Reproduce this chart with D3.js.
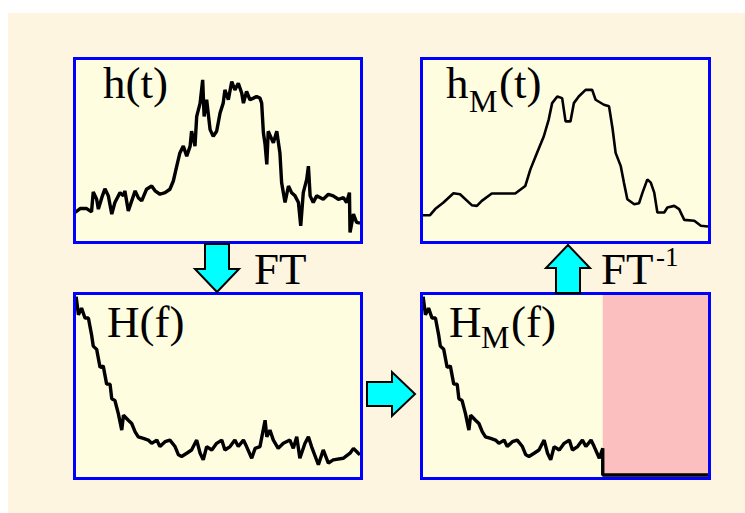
<!DOCTYPE html>
<html>
<head>
<meta charset="utf-8">
<script src="https://cdn.jsdelivr.net/npm/d3@7"></script>
<style>
  html, body { margin: 0; padding: 0; background: #ffffff; }
  svg { display: block; }
  .label { font-family: "Liberation Serif", "Times New Roman", serif; fill: #000; }
</style>
</head>
<body>
<div id="chart"></div>
<script>
"use strict";

// h(t): original signal, [t, amplitude] (t 0..100, amplitude 0..100)
let hT = [
  [0, 14.8], [1.8, 17.0], [4.1, 17.0], [5.8, 15.2], [6.4, 26.3], [7.6, 22.2], [8.2, 16.7],
  [9.4, 23.1], [10.5, 28.1], [11.7, 24.1], [12.9, 13.9], [14.0, 20.4], [15.8, 25.9],
  [17.0, 24.1], [17.5, 26.9], [18.7, 15.7], [19.9, 21.3], [21.1, 26.9], [22.2, 23.1],
  [23.4, 21.3], [25.1, 27.8], [26.9, 29.6], [28.1, 26.9], [29.8, 25.0], [31.6, 25.9],
  [33.3, 27.8], [34.5, 32.4], [35.7, 40.7], [36.8, 48.1], [38.0, 51.9], [39.2, 46.3],
  [40.4, 51.9], [40.9, 60.2], [42.1, 51.9], [42.7, 68.5], [43.9, 75.9], [44.8, 88.9],
  [45.3, 68.5], [46.2, 77.8], [47.4, 61.1], [48.5, 57.4], [49.7, 60.2], [50.9, 70.4],
  [52.0, 75.9], [52.6, 83.3], [53.8, 77.8], [55.0, 88.0], [56.1, 83.3], [57.3, 87.0],
  [58.5, 81.5], [59.1, 75.9], [60.2, 82.4], [61.4, 77.8], [62.6, 78.7], [63.7, 79.6],
  [64.9, 78.7], [65.5, 75.9], [66.1, 59.3], [66.7, 52.8], [67.3, 41.7], [67.8, 60.2],
  [69.6, 53.7], [70.8, 60.2], [71.9, 48.1], [72.5, 31.5], [73.7, 20.4], [74.9, 29.6],
  [76.0, 25.9], [77.2, 24.1], [78.4, 20.4], [79.2, 7.4], [80.1, 25.9], [81.3, 33.3],
  [81.9, 40.7], [82.5, 24.1], [83.6, 20.4], [84.8, 24.1], [87.1, 22.2], [88.9, 25.0],
  [90.6, 24.1], [92.4, 22.2], [94.2, 23.1], [95.3, 20.4], [96.3, 25.9], [96.5, 3.7],
  [97.7, 13.9], [98.8, 9.3], [100, 8.9]
];

// h_M(t): signal rebuilt from the masked spectrum
let hMT = [
  [0, 13.3], [2.8, 13.3], [4.6, 16.7], [7.5, 20.4], [11.0, 25.6], [13.3, 25.0], [17.4, 18.9],
  [19.2, 18.5], [20.9, 21.3], [24.4, 25.4], [32.6, 25.4], [36.1, 29.6], [37.9, 38.9],
  [40.2, 48.1], [42.6, 57.4], [44.3, 66.7], [45.5, 75.9], [47.3, 79.6], [49.0, 78.7],
  [50.2, 65.7], [51.9, 65.7], [53.1, 75.9], [54.8, 79.6], [57.2, 83.3], [59.5, 83.3],
  [60.7, 77.8], [63.6, 75.0], [65.4, 74.1], [66.6, 62.0], [67.7, 48.1], [69.5, 40.7],
  [70.6, 31.5], [71.8, 22.2], [74.2, 19.4], [75.9, 20.0], [77.1, 25.9], [78.8, 33.3],
  [80.0, 31.5], [81.2, 25.9], [82.3, 14.8], [84.7, 14.8], [85.8, 17.6], [88.2, 18.5],
  [89.9, 16.7], [91.7, 10.7], [95.2, 10.2], [97.5, 7.4], [100, 7.0]
];

// H(f): spectrum magnitude, [f, magnitude]
let HF = [
  [0.4, 99.1], [1.2, 89.0], [2.3, 92.7], [3.5, 87.2], [4.7, 87.2], [5.8, 78.0], [6.4, 71.6],
  [7.6, 69.8], [8.8, 59.7], [9.9, 60.6], [11.1, 50.5], [12.3, 50.5], [12.9, 42.3],
  [14.0, 41.4], [15.2, 34.1], [16.4, 24.9], [17.0, 33.2], [18.7, 30.4], [19.9, 28.6],
  [21.1, 24.0], [22.2, 21.2], [24.0, 20.3], [25.7, 19.4], [26.9, 17.6], [28.7, 19.4],
  [29.8, 15.8], [31.6, 18.5], [33.3, 19.4], [35.1, 15.8], [36.3, 11.2], [37.4, 10.3],
  [39.2, 12.1], [40.9, 13.9], [42.7, 19.4], [43.9, 12.1], [45.0, 8.4], [46.2, 15.8],
  [48.0, 13.9], [49.7, 17.6], [51.5, 19.4], [52.6, 13.9], [54.4, 15.8], [56.1, 19.4],
  [57.3, 15.8], [59.1, 19.4], [60.2, 15.8], [62.0, 9.3], [63.2, 14.8], [64.9, 15.8],
  [66.7, 30.4], [67.3, 21.2], [68.4, 24.9], [69.6, 19.4], [71.3, 14.8], [73.1, 17.6],
  [75.4, 19.4], [76.6, 14.8], [77.8, 21.2], [78.9, 9.3], [80.7, 17.6], [81.9, 21.2],
  [83.0, 15.8], [85.4, 5.7], [87.1, 13.9], [88.9, 6.6], [90.6, 8.4], [94.1, 9.3],
  [96.5, 12.1], [97.7, 14.8], [99.4, 12.1], [100, 11.2]
];

// frequency above which the spectrum is masked out
let cutoff = 63.2;

// H_M(f): H(f) kept below the cutoff, zero above it
let HMF = HF.filter(d => d[0] <= cutoff);
HMF = HMF.concat([[cutoff, 0], [100, 0]]);

let width = 745, height = 513;

let svg = d3.select("#chart").append("svg")
  .attr("width", width)
  .attr("height", height);

// cream backdrop
svg.append("rect")
  .attr("x", 8).attr("y", 13)
  .attr("width", width - 8).attr("height", height - 13)
  .style("fill", "#fef5e1");

let panels = [
  { id: "h",  x0: 73,  y0: 57,  x1: 363, y1: 244, data: hT,  lw: 3.4 },
  { id: "hM", x0: 420, y0: 57,  x1: 711, y1: 244, data: hMT, lw: 2.6 },
  { id: "H",  x0: 73,  y0: 292, x1: 363, y1: 480, data: HF,  lw: 3.4 },
  { id: "HM", x0: 420, y0: 292, x1: 711, y1: 480, data: HMF, lw: 3.4 }
];

panels.forEach(p => {
  let g = svg.append("g");

  let x = d3.scaleLinear().domain([0, 100]).range([p.x0 + 2, p.x1 - 3]);
  let y = d3.scaleLinear().domain([0, 100]).range([p.y1 - 5, p.y0 + 3]);

  g.append("rect")
    .attr("x", p.x0).attr("y", p.y0)
    .attr("width", p.x1 - p.x0).attr("height", p.y1 - p.y0)
    .style("fill", "#fffde0");

  if (p.id === "HM") {
    // masked band
    g.append("rect")
      .attr("x", x(cutoff)).attr("y", p.y0)
      .attr("width", p.x1 - x(cutoff)).attr("height", p.y1 - p.y0)
      .style("fill", "#fbbfbf");
  }

  let line = d3.line()
    .x(d => x(d[0]))
    .y(d => y(d[1]));

  g.append("path")
    .datum(p.data)
    .attr("d", line)
    .style("fill", "none")
    .style("stroke", "#000")
    .style("stroke-width", p.lw)
    .style("stroke-linejoin", "bevel");

  g.append("rect")
    .attr("x", p.x0 + 1.5).attr("y", p.y0 + 1.5)
    .attr("width", p.x1 - p.x0 - 3).attr("height", p.y1 - p.y0 - 3)
    .style("fill", "none")
    .style("stroke", "#0000ff")
    .style("stroke-width", 3)
    .attr("shape-rendering", "crispEdges");
});

// panel labels
function label(parts) {
  let t = svg.append("text").attr("class", "label");
  parts.forEach(s => {
    t.append("tspan")
      .attr("x", s.x)
      .attr("y", s.y)
      .style("font-size", s.size + "px")
      .text(s.text);
  });
}

label([{ text: "h(t)", x: 103, y: 98, size: 45 }]);
label([
  { text: "h", x: 446, y: 98, size: 45 },
  { text: "M", x: 469, y: 112, size: 32 },
  { text: "(t)", x: 499, y: 98, size: 45 }
]);
label([{ text: "H(f)", x: 107, y: 337, size: 45 }]);
label([
  { text: "H", x: 449, y: 337, size: 45 },
  { text: "M", x: 481, y: 348, size: 32 },
  { text: "(f)", x: 511, y: 337, size: 45 }
]);
label([{ text: "FT", x: 254, y: 284, size: 45 }]);
label([
  { text: "FT", x: 601, y: 284, size: 45 },
  { text: "-1", x: 656, y: 266, size: 27 }
]);

// block arrows: points given in a local frame pointing right (length along x)
function arrow(cx, cy, angle) {
  let pts = [[-24, -12], [1, -12], [1, -22], [24, 0], [1, 22], [1, 12], [-24, 12]];
  svg.append("polygon")
    .attr("points", pts.map(p => p.join(",")).join(" "))
    .attr("transform", "translate(" + cx + "," + cy + ") rotate(" + angle + ")")
    .style("fill", "#00ffff")
    .style("stroke", "#000")
    .style("stroke-width", 2)
    .style("stroke-linejoin", "miter");
}

arrow(217, 268, 90);
arrow(568, 269, -90);
arrow(391, 394, 0);
</script>
</body>
</html>
